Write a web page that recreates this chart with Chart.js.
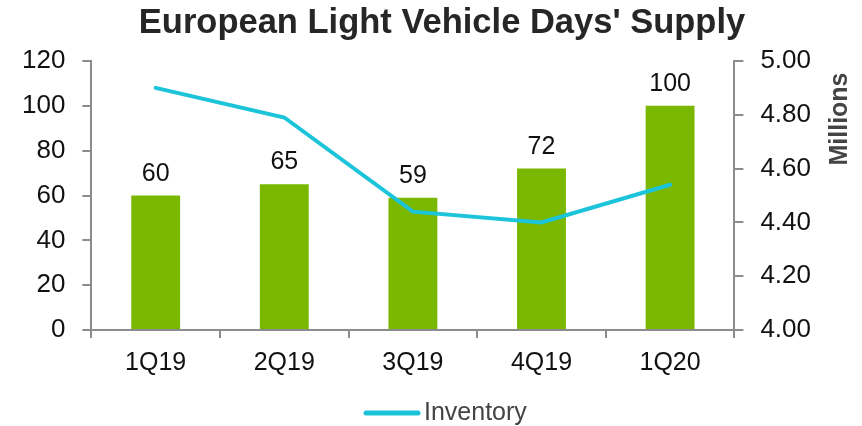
<!DOCTYPE html>
<html>
<head>
<meta charset="utf-8">
<script src="https://cdn.jsdelivr.net/npm/chart.js@4/dist/chart.umd.min.js"></script>
<style>
  html, body { margin: 0; padding: 0; background: #fff; }
  #wrap { width: 862px; height: 426px; }
</style>
</head>
<body>
<div id="wrap"><canvas id="supplyChart"></canvas></div>
<script>
// Données
const quarters = ['1Q19', '2Q19', '3Q19', '4Q19', '1Q20'];
const daysSupply = [60, 65, 59, 72, 100];
const inventory = [4.90, 4.79, 4.44, 4.40, 4.54];

const fontFamily = '"Liberation Sans", Arial, sans-serif';
const lineColor = '#1CC4DA';

// Titre, étiquettes des barres, "Millions" et légende dessinés à la main
const extrasPlugin = {
  id: 'extras',
  afterDatasetsDraw(chart) {
    const ctx = chart.ctx;
    const meta = chart.getDatasetMeta(1);
    ctx.save();

    // titre (un peu décalé à droite comme sur l'original)
    ctx.font = 'bold 34.5px ' + fontFamily;
    ctx.fillStyle = '#262626';
    ctx.textAlign = 'center';
    ctx.textBaseline = 'alphabetic';
    ctx.fillText("European Light Vehicle Days' Supply", 442, 33);

    // valeurs au-dessus des barres
    ctx.font = '25px ' + fontFamily;
    ctx.fillStyle = '#111';
    meta.data.forEach((bar, i) => {
      ctx.fillText(daysSupply[i], bar.x, bar.y - 15);
    });

    // légende
    const legendY = 413;
    ctx.strokeStyle = lineColor;
    ctx.lineWidth = 5;
    ctx.lineCap = 'round';
    ctx.beginPath();
    ctx.moveTo(366, legendY);
    ctx.lineTo(418, legendY);
    ctx.stroke();
    ctx.font = '25px ' + fontFamily;
    ctx.fillStyle = '#444';
    ctx.textAlign = 'left';
    ctx.textBaseline = 'middle';
    ctx.fillText('Inventory', 424, legendY);

    // titre de l'axe droit, lu de bas en haut
    const yR = chart.scales.yR;
    ctx.translate(yR.left + 106, yR.top + 58);
    ctx.rotate(-Math.PI / 2);
    ctx.font = 'bold 25px ' + fontFamily;
    ctx.fillStyle = '#444';
    ctx.textAlign = 'center';
    ctx.fillText('Millions', 0, 0);
    ctx.restore();
  }
};

const axisColor = '#8c8c8c';

new Chart(document.getElementById('supplyChart'), {
  data: {
    labels: quarters,
    datasets: [
      {
        type: 'line',
        label: 'Inventory',
        data: inventory,
        yAxisID: 'yR',
        borderColor: lineColor,
        backgroundColor: lineColor,
        borderWidth: 4,
        borderCapStyle: 'round',
        pointRadius: 0,
        tension: 0,
        order: 0
      },
      {
        type: 'bar',
        label: 'Days',
        data: daysSupply,
        yAxisID: 'yL',
        backgroundColor: '#7AB800',
        barPercentage: 0.76,
        categoryPercentage: 0.5,
        order: 1
      }
    ]
  },
  options: {
    responsive: true,
    maintainAspectRatio: false,
    animation: false,
    layout: { padding: { left: 5, right: 34, top: 61, bottom: 38 } },
    plugins: {
      title: { display: false },
      legend: { display: false },
      tooltip: { enabled: false }
    },
    scales: {
      x: {
        grid: { display: true, drawOnChartArea: false, color: axisColor, tickLength: 8, lineWidth: 2 },
        border: { color: axisColor, width: 2 },
        ticks: { color: '#111', font: { family: fontFamily, size: 25 }, padding: 10 }
      },
      yL: {
        position: 'left',
        min: 0,
        max: 120,
        grid: { display: true, drawOnChartArea: false, color: axisColor, tickLength: 9, lineWidth: 2 },
        border: { color: axisColor, width: 2 },
        ticks: { stepSize: 20, color: '#111', font: { family: fontFamily, size: 26 }, padding: 17 }
      },
      yR: {
        position: 'right',
        min: 4.0,
        max: 5.0,
        grid: { display: true, drawOnChartArea: false, color: axisColor, tickLength: 9, lineWidth: 2 },
        border: { color: axisColor, width: 2 },
        ticks: {
          stepSize: 0.2,
          color: '#111',
          font: { family: fontFamily, size: 26 },
          padding: 17,
          callback: v => v.toFixed(2)
        }
      }
    }
  },
  plugins: [extrasPlugin]
});
</script>
</body>
</html>
